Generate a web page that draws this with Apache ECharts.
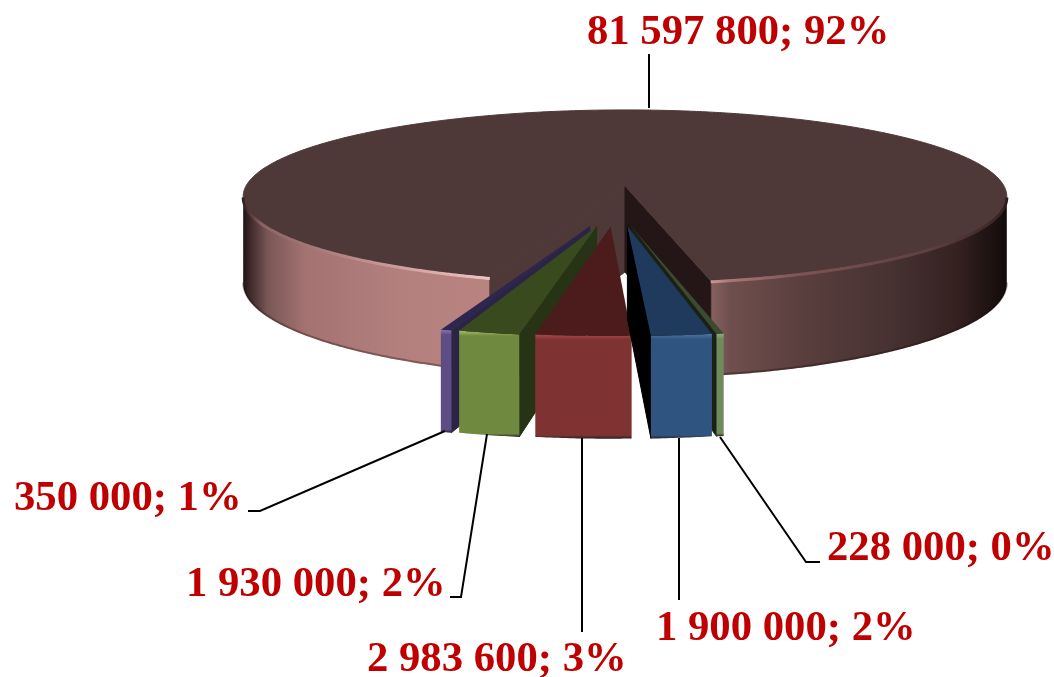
<!DOCTYPE html>
<html><head><meta charset="utf-8">
<style>html,body{margin:0;padding:0;background:#fff}#c{width:1054px;height:677px}</style>
<script src="https://cdn.jsdelivr.net/npm/echarts@6/dist/echarts.min.js"></script>
</head><body><div id="c"></div>
<script>
// Data, in pie order (clockwise from the big slice)
const sliceValues = [81597800, 228000, 1900000, 2983600, 1930000, 350000];
const sliceLabels = ['81 597 800; 92%', '228 000; 0%', '1 900 000; 2%', '2 983 600; 3%', '1 930 000; 2%', '350 000; 1%'];

// Styling per slice: [front, highlight, top, side]
const sliceColors = [
  ['#8a6060', '#c99796', '#4e3838', '#241616'],
  ['#708a60', '#93ab80', '#3b4a30', '#1a2015'],
  ['#2f5480', '#4d78a8', '#1f3a5c', '#000000'],
  ['#7e3232', '#a84a4a', '#4c1c1c', '#3f1515'],
  ['#6f8a3e', '#a8bf66', '#3a4a1f', '#263315'],
  ['#5e4d85', '#8878b0', '#2f2650', '#2c2447']
];
const explodeX = [0, 0.016, 0.006, -0.036, -0.071, -0.088];
const explodeY = [0, 0.45, 0.45, 0.45, 0.45, 0.45];
const paintOrder = [0, 5, 4, 3, 1, 2];
// Projection
const view = { cx: 625, cy: 186, R: 379, A: 85.3, p: 0.121, depthMain: 86, depthSlice: 88, depthPow: 0.8, startDeg: 11.5 };
// Label layout: [x of left edge, y of middle], leader polyline
const labelPos = [[587, 33], [827, 549], [656, 629], [367, 660], [186, 585], [14, 499]];
const leaders = [
  [[649, 54], [649, 108]],
  [[720, 437], [806, 562], [820, 562]],
  [[679, 438], [679, 600]],
  [[582, 438], [582, 632]],
  [[487, 434], [461, 597], [450, 597]],
  [[445, 431], [260, 511], [248, 511]]
];

const total = sliceValues.reduce((a, b) => a + b, 0);
// Angular span of each small slice, in degrees measured from the front, decreasing.
const spans = [];
(function () {
  let a = view.startDeg;
  for (let i = 1; i < sliceValues.length; i++) {
    const d = sliceValues[i] / total * 360;
    spans[i] = [a, a - d];
    a -= d;
  }
  spans[0] = [view.startDeg, a + 360];
})();

function proj(deg, r, ox, oy, dz) {
  const t = deg * Math.PI / 180;
  const X = r * Math.sin(t) + ox, Y = r * Math.cos(t) + oy;
  const s = 1 / (1 - view.p * Y);
  return [view.cx + view.R * X * s, view.cy + view.A * Y * s + dz * Math.pow(s, view.depthPow)];
}
function arc(a, b, ox, oy, dz) {
  const n = Math.max(2, Math.ceil(Math.abs(b - a) / 0.5));
  const pts = [];
  for (let i = 0; i <= n; i++) pts.push(proj(a + (b - a) * i / n, 1, ox, oy, dz));
  return pts;
}
function hGrad(stops) {
  return new echarts.graphic.LinearGradient(243, 0, 1007, 0,
    stops.map(s => ({ offset: (s[0] - 243) / 764, color: s[1] })), true);
}
function poly(points, fill, seal) {
  return { type: 'polygon', shape: { points }, style: { fill, stroke: seal ? fill : null, lineWidth: seal ? 1 : 0 } };
}
function line(points, stroke, w) {
  return { type: 'polyline', shape: { points }, style: { stroke, lineWidth: w, fill: null } };
}

function drawMain() {
  const c = sliceColors[0], d = view.depthMain;
  const [a, b] = spans[0]; // from right cut, through the back, to the left cut
  const edge = Math.acos(view.p) * 180 / Math.PI; // where the outline is widest
  const sideFill = hGrad([[243, '#1e1212'], [250, '#3d2929'], [268, '#7a5757'], [305, '#a37271'], [400, '#b3807e'], [490, '#b9837f'],
    [707, '#8a6563'], [730, '#6f4f4e'], [800, '#5a3f3e'], [900, '#453030'], [960, '#33201f'], [1000, '#170e0e'], [1007, '#120a0a']]);
  const rimFill = hGrad([[243, '#33201f'], [262, '#8a6463'], [400, '#cf9e9c'], [490, '#eec6c4'],
    [707, '#cf9e9c'], [730, '#a87876'], [800, '#7d5454'], [930, '#5e3f3f'], [1000, '#3a2525'], [1007, '#2c1c1c']]);
  const rightTop = arc(a, edge, 0, 0, 0), leftTop = arc(360 - edge, b, 0, 0, 0);
  const rightBot = arc(a, edge, 0, 0, d), leftBot = arc(360 - edge, b, 0, 0, d);
  const apexT = proj(0, 0, 0, 0, 0), apexB = proj(0, 0, 0, 0, d);
  const top = arc(a, b, 0, 0, 0).concat([apexT]);
  const rT = proj(a, 1, 0, 0, 0), rB = proj(a, 1, 0, 0, d);
  const lT = proj(b, 1, 0, 0, 0), lB = proj(b, 1, 0, 0, d);
  return [
    poly(rightTop.concat(rightBot.slice().reverse()), sideFill),
    poly(leftTop.concat(leftBot.slice().reverse()), sideFill),
    line(rightBot.map(p => [p[0], p[1] - 1]), 'rgba(30,15,15,0.35)', 2),
    line(leftBot.map(p => [p[0], p[1] - 1]), 'rgba(30,15,15,0.35)', 2),
    poly([apexT, lT, lB, apexB], c[2], true),
    poly([apexT, rT, rB, apexB], c[3], true),
    poly(top, c[2], true),
    line(rightTop.map(p => [p[0], p[1] + 1]), rimFill, 3),
    line(leftTop.map(p => [p[0], p[1] + 1]), rimFill, 3)
  ];
}

function drawSlice(i) {
  const c = sliceColors[i], d = view.depthSlice, ox = explodeX[i], oy = explodeY[i];
  const [right, left] = spans[i];
  const apexT = proj(0, 0, ox, oy, 0), apexB = proj(0, 0, ox, oy, d);
  const rT = proj(right, 1, ox, oy, 0), rB = proj(right, 1, ox, oy, d);
  const lT = proj(left, 1, ox, oy, 0), lB = proj(left, 1, ox, oy, d);
  const topArc = arc(right, left, ox, oy, 0), botArc = arc(right, left, ox, oy, d);
  const y0 = Math.min(lT[1], rT[1]), y1 = Math.max(lB[1], rB[1]);
  const front = new echarts.graphic.LinearGradient(0, y0, 0, y1, [
    { offset: 0, color: c[1] }, { offset: 0.05, color: c[0] },
    { offset: 0.97, color: c[0] }, { offset: 1, color: '#2a2020' }], true);
  const parts = [];
  if (lT[0] > apexT[0]) parts.push(poly([apexT, lT, lB, apexB], c[3], true));
  if (rT[0] < apexT[0]) parts.push(poly([apexT, rT, rB, apexB], c[3], true));
  parts.push(poly(topArc.concat(botArc.slice().reverse()), front));
  parts.push(poly(topArc.concat([apexT]), c[2]));
  return parts;
}

function renderPie(params) {
  const i = paintOrder[params.dataIndex];
  return { type: 'group', children: i === 0 ? drawMain() : drawSlice(i) };
}
function renderLabel(params) {
  const i = params.dataIndex;
  return { type: 'group', children: [
    line(leaders[i], '#000000', 2),
    { type: 'text', style: {
        text: sliceLabels[i], x: labelPos[i][0], y: labelPos[i][1],
        fill: '#c00000', font: 'bold 42.7px "Liberation Serif", serif',
        align: 'left', verticalAlign: 'middle' } }
  ] };
}

const chart = echarts.init(document.getElementById('c'), null, { renderer: 'canvas' });
chart.setOption({
  animation: false,
  backgroundColor: '#ffffff',
  series: [
    { type: 'custom', coordinateSystem: 'none', silent: true, z: 1, clip: false,
      data: paintOrder.map(i => sliceValues[i]), renderItem: renderPie },
    { type: 'custom', coordinateSystem: 'none', silent: true, z: 2, clip: false,
      data: sliceValues, renderItem: renderLabel }
  ]
});
</script></body></html>
